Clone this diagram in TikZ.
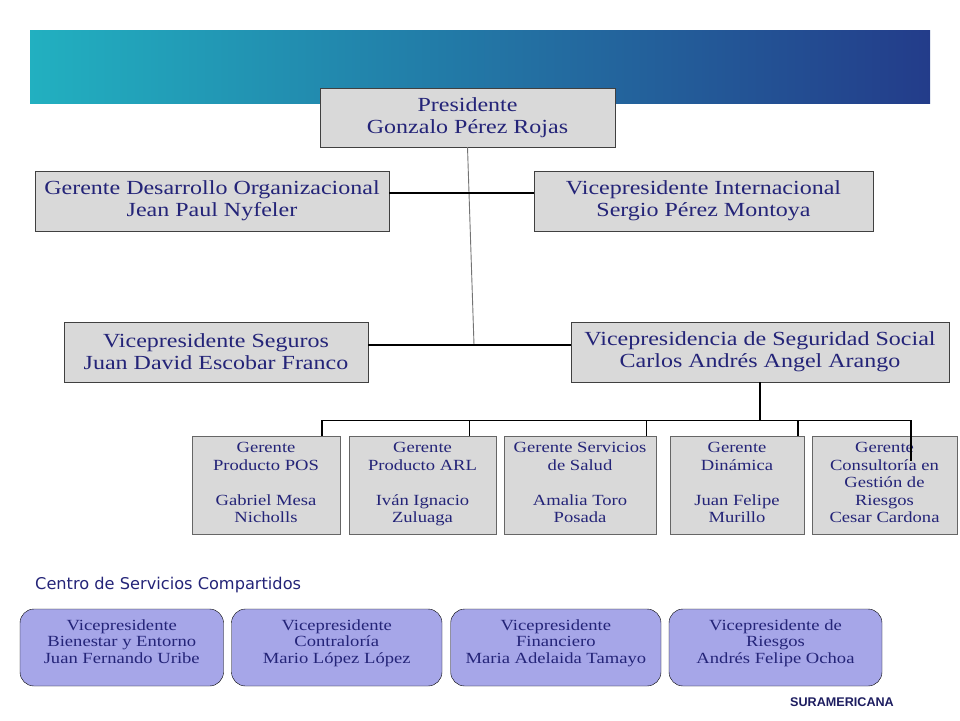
\documentclass[tikz,border=0pt]{standalone}
\usepackage{fontspec}
\setmainfont{Liberation Serif}[FakeStretch=1.2]
\newfontfamily\labelfont{DejaVu Sans}
\newfontfamily\brandfont{Liberation Sans}
\usepackage{tikz}
\usetikzlibrary{calc}

\definecolor{navy}{RGB}{36,36,120}
\definecolor{boxgray}{RGB}{217,217,217}
\definecolor{lavender}{RGB}{166,166,232}
\definecolor{bandleft}{RGB}{34,176,192}
\definecolor{bandright}{RGB}{35,60,138}

\begin{document}
\setlength{\lineskiplimit}{-20pt}
\begin{tikzpicture}[x=1pt,y=-1pt,
  mainbox/.style={draw=black!75,fill=boxgray,minimum height=60pt,align=center,
    text=navy,font=\fontsize{20}{22}\selectfont,inner sep=2pt},
  subbox/.style={draw=black!60,fill=boxgray,minimum height=98pt,align=center,
    text=navy,font=\fontsize{15.5}{17.5}\selectfont,inner sep=1pt},
  sharedbox/.style={draw=black,fill=lavender,rounded corners=14pt,minimum height=77pt,
    align=center,text=navy,font=\fontsize{15.5}{16.5}\selectfont,inner sep=1pt},
  link/.style={black,line width=1.2pt}]
  \useasboundingbox (0,0) rectangle (960,720);
  % banda superior
  \fill[left color=bandleft,right color=bandright] (30,30) rectangle (930,103);

  % direccion
  \node[mainbox,minimum width=295pt,minimum height=59pt] (pres) at (467.5,117.5)
    {Presidente\\Gonzalo Pérez Rojas};
  \node[mainbox,minimum width=354pt] (gdo) at (212,201)
    {Gerente Desarrollo Organizacional\\Jean Paul Nyfeler};
  \node[mainbox,minimum width=339pt] (vpi) at (703.5,201)
    {Vicepresidente Internacional\\Sergio Pérez Montoya};
  \node[mainbox,minimum width=304pt] (vps) at (216,352)
    {Vicepresidente Seguros\\Juan David Escobar Franco};
  \node[mainbox,minimum width=378pt] (vss) at (760,352)
    {Vicepresidencia de Seguridad Social\\Carlos Andrés Angel Arango};

  \coordinate (trunk) at (474,345);
  \draw[black!55,line width=0.9pt] (pres.south) -- (trunk);
  \draw[link] ([yshift=8pt]gdo.east) -- ([yshift=8pt]vpi.west);
  \draw[link] ([yshift=7pt]vps.east) -- ([yshift=7pt]vss.west);

  % gerencias de seguridad social
  \node[subbox,minimum width=148pt] (pos) at (266,485)
    {Gerente\\Producto POS\\[17.5pt]Gabriel Mesa\\Nicholls\strut};
  \node[subbox,minimum width=147pt] (arl) at (422.5,485)
    {Gerente\\Producto ARL\\[17.5pt]Iván Ignacio\\Zuluaga\strut};
  \node[subbox,minimum width=152pt] (salud) at (580,485)
    {Gerente Servicios\\de Salud\\[17.5pt]Amalia Toro\\Posada\strut};
  \node[subbox,minimum width=134pt] (dina) at (737,485)
    {Gerente\\Dinámica\\[17.5pt]Juan Felipe\\Murillo\strut};
  \node[subbox,minimum width=145pt] (riesgo) at (884.5,485)
    {Gerente\\Consultoría en\\Gestión de\\Riesgos\\Cesar Cardona\strut};

  \coordinate (bus) at (760,421);
  \coordinate (tail) at (911,461);
  \draw[link] (vss.south) -- (bus);
  \draw[link] ([xshift=56pt]pos.north) -- ++(0,-15) -| (tail);
  \foreach \n/\dx in {arl/47,salud/66.7,dina/61}
    \draw[link] ([xshift=\dx pt]\n.north) -- ++(0,-15);

  % centro de servicios compartidos
  \node[anchor=west,text=navy,font=\labelfont\fontsize{16.2}{18}\selectfont,inner sep=0pt]
    (csc) at (35,585) {Centro de Servicios Compartidos};
  \node[sharedbox,minimum width=203.5pt] (bien) at (121.75,647.5)
    {Vicepresidente\\Bienestar y Entorno\\Juan Fernando Uribe\\[-4pt]};
  \node[sharedbox,minimum width=210.5pt] (contra) at (336.75,647.5)
    {Vicepresidente\\Contraloría\\Mario López López\\[-4pt]};
  \node[sharedbox,minimum width=210.3pt] (fin) at (555.85,647.5)
    {Vicepresidente\\Financiero\\Maria Adelaida Tamayo\\[-4pt]};
  \node[sharedbox,minimum width=213pt] (vpr) at (775.5,647.5)
    {Vicepresidente de\\Riesgos\\Andrés Felipe Ochoa\\[-4pt]};

  \node[anchor=east,text=navy!80!black,font=\brandfont\bfseries\fontsize{12.6}{15}\selectfont,inner sep=0pt]
    (marca) at (894,702) {SURAMERICANA};
\end{tikzpicture}
\end{document}
